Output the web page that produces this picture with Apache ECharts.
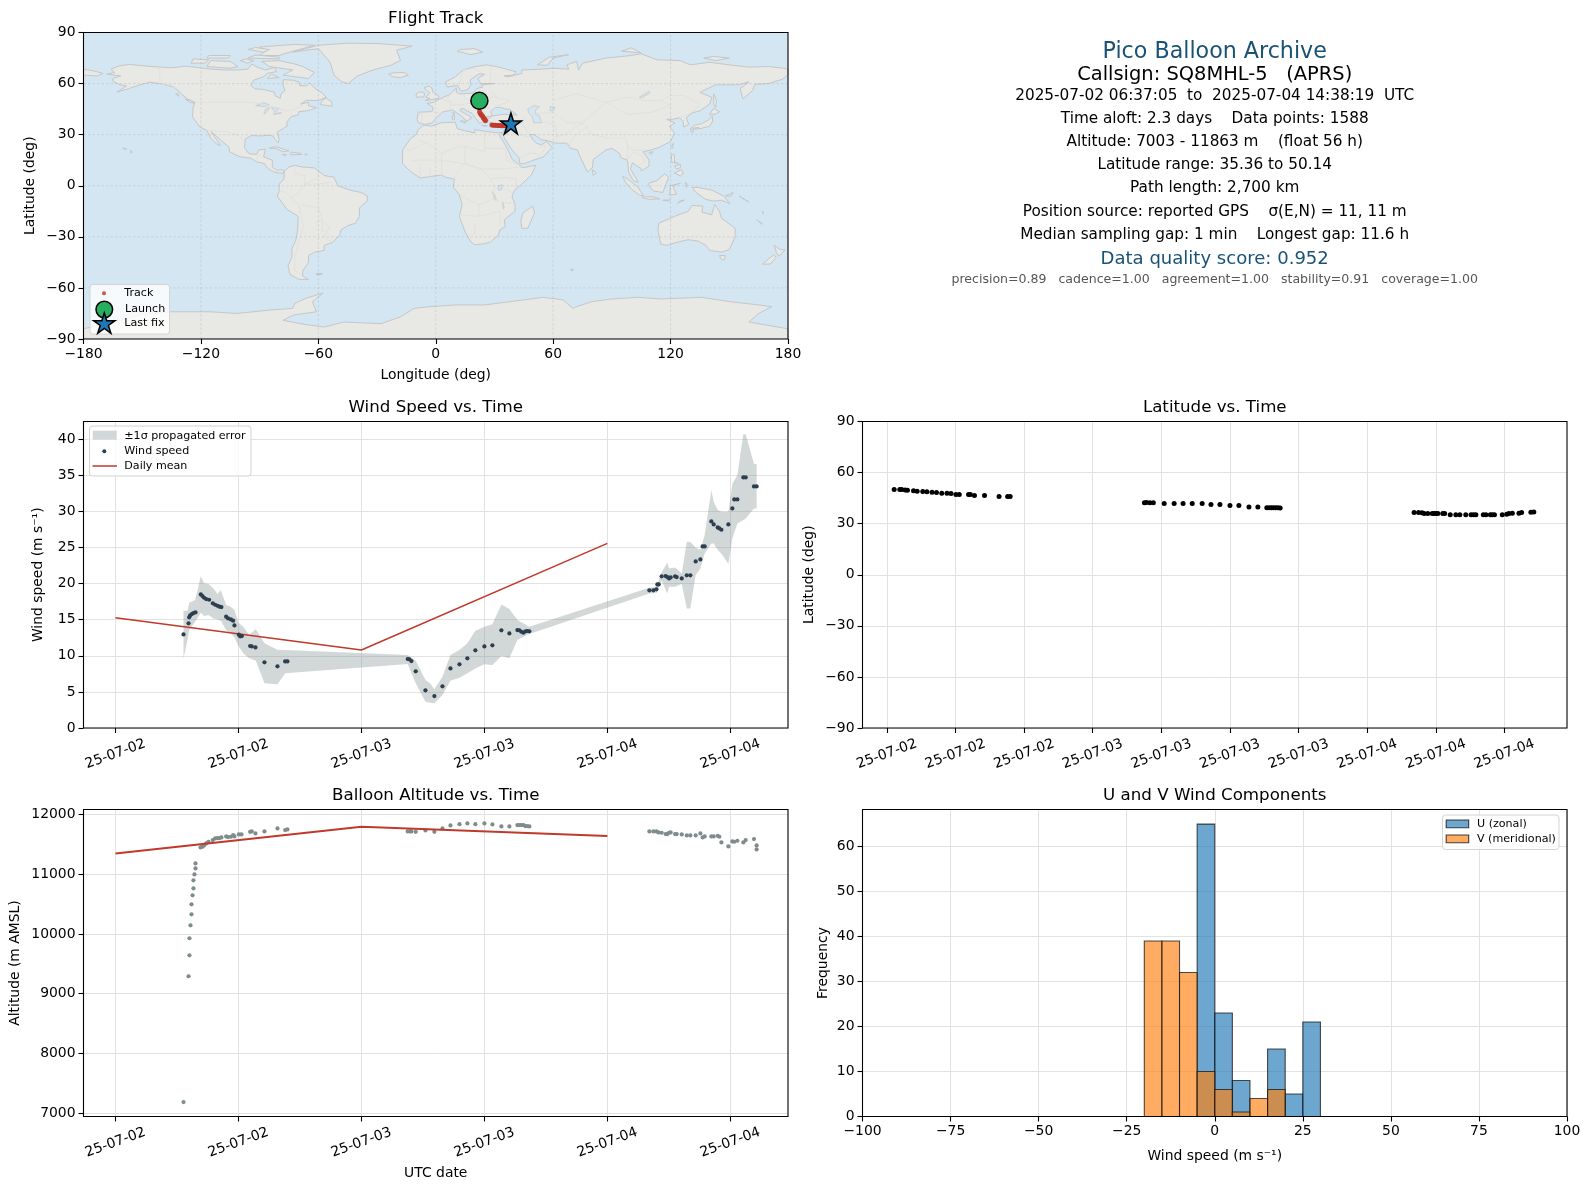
<!DOCTYPE html>
<html><head><meta charset="utf-8">
<style>html,body{margin:0;padding:0;background:#fff}#c{width:1590px;height:1190px}</style>
<script src="https://cdn.jsdelivr.net/npm/echarts@6/dist/echarts.min.js"></script>
</head><body><div id="c"></div>
<script>
// ---------- DATA ----------
const windHours=[6.64,7.13,7.19,7.29,7.45,7.61,7.81,8.33,8.49,8.65,8.85,9.14,9.50,9.73,9.95,10.15,10.34,10.80,10.99,11.26,11.48,11.61,12.04,12.17,12.33,13.14,13.30,13.66,14.54,15.81,16.56,16.78,28.52,28.69,28.88,29.30,30.25,31.12,31.91,32.69,33.57,34.34,35.12,36.0,36.78,37.66,38.44,39.22,39.42,39.61,39.81,40.0,40.2,40.39,52.10,52.49,52.79,52.88,53.01,53.30,53.69,53.86,54.02,54.18,54.61,54.77,55.26,55.75,56.10,56.62,57.08,57.30,57.50,58.15,58.38,58.77,58.93,59.13,59.81,60.20,60.39,60.69,61.27,61.50,62.31,62.57];
const windSpeed=[12.97,14.50,15.33,15.60,15.79,15.93,16.02,18.51,18.28,18.05,17.87,17.77,17.27,17.08,16.94,16.81,16.76,15.42,15.19,15.05,14.87,14.22,12.93,12.70,12.74,11.36,11.31,11.17,9.10,8.54,9.23,9.23,9.56,9.51,9.28,7.85,5.22,4.43,5.77,8.26,8.82,9.65,10.76,11.31,11.45,13.53,13.11,13.57,13.53,13.34,13.20,13.39,13.44,13.39,19.07,19.07,19.21,19.90,19.90,21.01,21.05,20.91,20.73,20.87,21.01,20.91,20.73,21.15,21.15,23.08,23.36,25.16,25.16,28.62,28.21,27.79,27.65,27.47,28.21,30.42,31.67,31.67,34.72,34.72,33.47,33.47];
const bandHours=[6.64,7.03,7.19,7.78,8.33,8.65,9.08,9.56,9.95,10.28,10.80,11.26,11.61,12.0,12.49,13.04,13.70,14.54,15.81,16.56,28.52,29.30,30.25,30.70,31.12,31.91,32.69,33.57,34.34,35.12,36.0,36.78,37.66,38.44,39.22,40.39,52.10,52.82,53.30,53.86,54.02,54.61,55.26,55.75,56.10,56.62,57.08,57.50,58.15,58.38,58.77,59.13,59.81,60.20,60.69,61.27,61.50,62.31,62.57];
const bandHigh=[16.25,16.25,17.36,17.73,21.05,20.04,19.94,19.34,18.56,19.11,17.04,16.81,16.34,14.59,14.04,12.88,13.67,11.73,10.85,10.80,10.11,9.33,6.65,6.19,5.36,7.11,10.11,10.80,11.73,13.48,14.04,14.36,17.13,16.48,14.96,14.04,19.44,19.58,21.61,22.90,22.11,22.25,21.42,25.76,25.76,25.02,24.65,26.73,32.96,31.35,30.19,29.96,29.96,33.80,35.04,40.72,40.72,36.57,36.57];
const bandLow=[9.65,12.19,13.57,14.73,15.97,15.51,15.65,15.19,15.05,14.87,13.57,13.11,12.56,11.36,10.34,9.65,9.33,6.19,6.05,7.57,8.86,6.19,3.65,3.51,3.42,4.57,6.56,6.97,7.57,8.26,8.82,8.73,9.97,9.65,12.19,13.02,18.65,18.74,20.41,18.65,19.58,19.58,19.94,16.57,16.57,21.19,22.11,24.19,25.58,25.58,24.65,24.19,22.71,26.27,28.35,28.81,29.04,30.42,30.42];
const meanHours=[0,24,48];
const meanWind=[15.28,10.80,25.58];
const meanAlt=[11348,11794,11638];
const altHours=[6.64,7.13,7.22,7.22,7.32,7.42,7.42,7.52,7.61,7.61,7.71,7.81,7.81,8.30,8.49,8.65,8.85,9.08,9.50,9.73,9.95,10.15,10.34,10.80,10.99,11.26,11.48,11.61,12.04,12.30,13.14,13.30,13.66,14.54,15.81,16.56,16.78,28.52,28.75,28.88,29.30,30.25,31.12,31.91,32.69,33.57,34.34,35.12,36.0,36.78,37.66,38.44,39.22,39.42,39.61,39.81,40.0,40.2,40.39,52.10,52.49,52.79,52.98,53.30,53.69,53.86,54.02,54.18,54.61,54.77,55.26,55.75,56.10,56.62,57.08,57.30,57.50,58.15,58.38,58.77,58.93,59.13,59.81,60.20,60.39,60.69,61.27,61.50,62.31,62.57,62.57];
const altMeters=[7187,9292,9643,9928,10145,10329,10496,10646,10763,10897,10997,11097,11181,11448,11460,11482,11515,11543,11571,11599,11604,11604,11616,11632,11621,11627,11655,11632,11666,11666,11710,11716,11682,11716,11766,11738,11749,11716,11716,11716,11710,11733,11710,11766,11816,11838,11850,11838,11850,11833,11799,11799,11822,11822,11822,11822,11805,11805,11799,11716,11716,11716,11699,11694,11671,11671,11694,11699,11671,11671,11666,11649,11649,11649,11682,11616,11632,11632,11632,11643,11627,11532,11465,11549,11543,11560,11532,11571,11588,11482,11415];
const latHours=[6.64,7.13,7.3,7.6,7.8,8.33,8.65,9.14,9.5,9.95,10.34,10.8,11.26,11.61,12.04,12.33,13.14,13.3,13.66,14.54,15.81,16.56,16.78,28.52,28.7,29.0,29.3,30.25,31.12,31.9,32.7,33.57,34.34,35.12,36.0,36.78,37.66,38.44,39.22,39.42,39.61,39.81,40.0,40.2,40.39,52.10,52.49,52.79,52.98,53.3,53.69,53.86,54.02,54.18,54.61,54.77,55.26,55.75,56.10,56.62,57.08,57.3,57.5,58.15,58.38,58.77,58.93,59.13,59.81,60.2,60.39,60.69,61.27,61.5,62.31,62.57];
const latDeg=[50.0,50.05,50.05,49.7,49.6,49.3,49.1,48.9,48.7,48.4,48.3,47.9,47.8,47.7,47.2,47.1,47.1,47.1,46.5,46.5,45.9,45.9,46.0,42.35,42.4,42.35,42.35,41.8,41.8,41.8,41.8,41.8,41.2,41.2,40.6,40.6,39.8,39.8,39.4,39.4,39.4,39.4,39.4,39.4,39.2,36.5,36.5,36.4,36.0,35.9,35.9,35.9,35.9,35.9,35.9,35.9,35.3,35.3,35.3,35.3,35.3,35.3,35.3,35.3,35.3,35.3,35.3,35.3,35.3,35.5,35.9,36.1,36.1,36.5,36.7,36.9];
const trackLon=[22.3,22.2,22.1,22.0,22.0,22.4,22.8,23.2,23.6,24.0,24.4,24.8,25.2,25.4,28.7,29.5,30.3,31.2,32.0,32.8,33.6,34.4,35.0,35.5,36.0];
const trackLat=[50.1,49.3,48.4,47.3,46.0,43.4,42.4,41.8,41.2,40.6,39.8,39.4,38.7,38.2,35.7,35.6,35.5,35.4,35.4,35.4,35.3,35.3,35.4,35.5,35.6];
const launchPoint=[22.3,49.9];
const lastFix=[38.4,36.6];
const binEdges=[-20,-15,-10,-5,0,5,10,15,20,25,30];
const uCounts=[0,0,0,65,23,8,0,15,5,21];
const vCounts=[39,39,32,10,6,1,4,6,0,0];
const lonTicks=[-180,-120,-60,0,60,120,180];
const latTicks=[-90,-60,-30,0,30,60,90];
const timeTicks12=[0,12,24,36,48,60];
const timeLabels12=['25-07-02','25-07-02','25-07-03','25-07-03','25-07-04','25-07-04'];
const timeTicks6=[6,12,18,24,30,36,42,48,54,60];
const timeLabels6=['25-07-02','25-07-02','25-07-02','25-07-03','25-07-03','25-07-03','25-07-03','25-07-04','25-07-04','25-07-04'];
const windTicks=[0,5,10,15,20,25,30,35,40];
const altTicks=[7000,8000,9000,10000,11000,12000];
const freqTicks=[0,10,20,30,40,50,60];
const infoLines=[
 ['Pico Balloon Archive',52.5,22.2,'#1a5276'],
 ['Callsign: SQ8MHL-5   (APRS)',74.5,19.44,'#000'],
 ['2025-07-02 06:37:05  to  2025-07-04 14:38:19  UTC',96,15.28,'#000'],
 ['Time aloft: 2.3 days    Data points: 1588',119.5,15.28,'#000'],
 ['Altitude: 7003 - 11863 m    (float 56 h)',142.5,15.28,'#000'],
 ['Latitude range: 35.36 to 50.14',165.5,15.28,'#000'],
 ['Path length: 2,700 km',188.5,15.28,'#000'],
 ['Position source: reported GPS    σ(E,N) = 11, 11 m',212,15.28,'#000'],
 ['Median sampling gap: 1 min    Longest gap: 11.6 h',235.5,15.28,'#000'],
 ['Data quality score: 0.952',259.5,18.06,'#1a5276'],
 ['precision=0.89   cadence=1.00   agreement=1.00   stability=0.91   coverage=1.00',279.5,12.55,'#555']
];
const landPolygons=[
 // North America
 [[-168,65.5],[-164,66.5],[-166,68.5],[-162,70.3],[-156.5,71.3],[-150,70.5],[-141,69.7],[-135,69.3],[-128,70.2],[-124,69.8],[-115,68.5],[-108,68],[-101,68],[-96,68.5],[-94,71.5],[-91,69.5],[-87,68],[-82,69.5],[-81.5,67],[-86,66],[-88,64],[-93,62],[-94.5,59],[-92.5,57],[-88,56.5],[-82.5,55],[-82,52.8],[-79.5,51.3],[-79,54],[-77,56],[-78,58.7],[-78,62.3],[-73,62],[-70,61],[-69.5,58.8],[-66,58.7],[-64.5,60.3],[-61.5,57],[-58,54.5],[-56,52],[-60,50],[-66,50.2],[-69,48],[-65,49],[-65,47],[-61,46],[-64,44.5],[-66,44],[-70,43.5],[-70,41.7],[-74,40.5],[-76,37.5],[-76,35],[-81,31.5],[-80,27],[-80.5,25.2],[-82,27],[-83,29],[-85,29.7],[-90,29.2],[-94,29.5],[-97.3,27.5],[-97.7,22.5],[-95.5,18.8],[-91.5,18.5],[-90.5,21],[-87,21.5],[-88,17],[-83.5,15],[-83.5,11],[-81,9],[-79,9.5],[-77.3,8.7],[-78,7.3],[-80.5,7.5],[-83,8.3],[-85.7,10],[-87.5,13],[-91.5,14],[-94.5,16.2],[-100,17],[-105.5,20],[-105.5,22.5],[-109,26],[-112.5,29.5],[-114.7,31.7],[-112,27],[-110,23.5],[-112,24.5],[-115,28],[-117,32.5],[-120.5,34.5],[-122.5,37.5],[-124.3,40.5],[-124,46],[-123,49],[-127,51],[-130.5,54.5],[-134,58],[-140,59.8],[-146,60.8],[-152,59],[-157,57],[-163,55],[-158,58.5],[-162,59.5],[-165,61.5],[-165,63],[-161,64.5]],
 [[-80,73.5],[-72,71.5],[-68,70],[-62,66.5],[-65,63],[-72,64],[-78,65],[-73,68],[-85,70],[-89,73]],
 [[-117,70],[-105,69],[-101,70],[-105,73],[-115,73.5]],
 [[-125,72],[-118,72],[-116,74],[-124,74.5]],
 [[-90,76.5],[-80,76.5],[-76,78],[-62,82.5],[-72,83],[-90,81.5],[-87,79]],
 [[-96,75],[-80,74.5],[-80,75.5],[-92,76.8]],
 [[-117,75],[-106,75],[-105,76.5],[-116,76.5]],
 [[-96,80],[-88,78.5],[-85,80],[-92,81.2]],
 [[-100,73.5],[-96,72],[-93,73.5],[-97,74.5]],
 [[-84,65.5],[-80,63.5],[-86,63]],
 [[-59,47.7],[-53,46.7],[-53,49],[-56,51.5],[-58,50]],
 [[-133,54],[-131.5,54],[-131.5,52.5]],
 [[-128,50.8],[-125,50],[-123.5,48.5],[-125.5,49]],
 // Greenland, Iceland
 [[-73,78.5],[-60,80.5],[-54,72.5],[-52,65],[-48,61],[-44.7,60],[-40,64.5],[-32,68],[-23,70.7],[-18,73.7],[-20,79.6],[-12,82],[-30,83.5],[-45.5,83.7],[-60,82.5]],
 [[-24,65.5],[-22,64],[-18,63.5],[-14,65],[-16,66.5],[-22,66.3]],
 // Caribbean, Hawaii
 [[-85,22],[-82,23],[-75,20.5],[-78,20],[-82,22]],
 [[-74,19.8],[-69,19],[-68.5,18.4],[-74,18.2]],
 [[-78.3,18.4],[-76.3,18.2],[-77,17.8]],
 [[-67,18.5],[-65.7,18.4],[-66.5,18]],
 [[-156,20.8],[-155,19.7],[-155.7,19]],
 [[-160,22.2],[-158,21.6],[-159,21.4]],
 // South America
 [[-77.3,8.7],[-75,11],[-72,12],[-68,11],[-62,10.5],[-57,6],[-52,5],[-50,0],[-44,-2.5],[-38,-4],[-35,-6],[-35,-9],[-39,-13],[-39,-18],[-41,-22],[-45,-23.5],[-48.5,-26],[-49,-29],[-53,-33.5],[-57,-35],[-57,-38],[-62,-39],[-65,-41],[-65,-45],[-68,-50],[-68,-53],[-65,-55],[-70,-55],[-74.5,-52],[-75.5,-47],[-73.5,-42],[-73.5,-37],[-71.5,-32],[-70.5,-25],[-70.3,-18],[-76,-14],[-81,-6],[-80,-3],[-80,1],[-77.5,4],[-77.5,7]],
 [[-61,-51.5],[-58,-51.5],[-58,-52.2],[-61,-52.2]],
 // Africa, Madagascar
 [[-6,35.7],[-2,35],[3,37],[10,37.3],[11,33.5],[15,32.3],[20,31],[20,33],[25,32],[32,31],[34.3,31.3],[32.5,29.5],[35.5,24],[37.3,20],[39,15.5],[43,12],[44,10.5],[51,12],[49,6.5],[44,1],[40,-3],[39,-6.5],[40.5,-11],[40.5,-15],[35,-20],[35.5,-24],[32.7,-26],[32,-29],[28,-33],[25,-34],[20,-34.8],[18,-33],[15,-27],[12,-18],[13.5,-11],[12,-5],[9,-1],[9.5,4],[5,5],[3,6.3],[-4,5.2],[-8,4.5],[-13,8.5],[-17,13],[-17,21],[-13,27.5],[-10,30],[-9,33]],
 [[49.5,-12],[50.5,-16],[47,-25],[44,-25],[43.5,-21],[44.5,-16]],
 // Eurasia
 [[-9,37],[-9.5,39],[-9,43.2],[-2,43.5],[-1.2,46],[-4.5,48.3],[-1,49],[2,51],[4,52],[7,53.5],[8.5,55],[10.5,57.5],[10.5,55],[12,54],[14,54],[19,54.5],[21,57],[24,58],[23.5,59.3],[30,60],[23,60],[21.5,63],[25,65.5],[22,65.7],[17.5,62],[18,59.5],[16.5,56.5],[13,55.5],[11,59],[6,58],[5,61],[10,64],[14,68],[20,70],[26,71],[31,70],[41,67],[40,65],[35,64.5],[37,64],[44,66],[44,68],[54,68.5],[60,69],[68,68.5],[67,71],[72,73],[73,68],[75,72],[81,73.5],[87,75],[100,76.5],[105,77.5],[113,74],[125,73.5],[130,71],[140,72.5],[150,71],[160,69.7],[170,70],[178,69],[180,68.5],[180,65],[177,62.5],[170,60],[163,59.5],[162,56],[157,51],[155.5,57],[160,61],[155,59.3],[143,59.3],[135,54.8],[141,52],[140,48],[135,44],[131,42.8],[128,40],[129.3,36],[126.5,34.5],[126.5,37.7],[124.5,40],[121,39],[118,39],[122.3,37],[119.5,35],[122,31],[120,26],[114,22.5],[110,21],[106,20],[109,15],[109,11.5],[105,8.7],[105,10],[100.5,13.5],[99.5,10],[103.5,2],[101,3],[98.5,8],[98,15],[94.5,16.5],[94,19],[90,22],[87,21],[80.5,15.5],[80,10.5],[77.5,8],[73,19],[72.5,21],[69,22],[67,25],[61.5,25],[57,26.5],[54,27],[50.5,30],[48,30],[50,26.5],[51.5,25],[54,24],[56.5,26],[59.5,22.5],[55,17],[45,13],[43,13],[42.5,16.5],[39,21],[35,28],[34.5,31.3],[36,36],[32,36.2],[28,36.7],[26.5,39],[29,41],[35,42],[41.5,41.5],[38,44.7],[35,45.3],[33,46],[30.5,46],[28,43.5],[29,41.2],[26,40.5],[23.5,40],[24,38],[22.5,36.5],[19.5,41],[18.5,42.5],[14,45.3],[12.5,45],[12.5,44],[18.5,40],[16,38],[12.5,41.5],[8.5,44.5],[3.5,43.3],[0,39.5],[-2,36.8],[-5.5,36]],
 [[-180,68.5],[-175,67.5],[-170,66],[-173,64.5],[-180,65]],
 // Europe / Arctic islands
 [[-5.5,50],[1.5,51.2],[1.5,52.8],[-1.5,55],[-2,57.5],[-3.5,58.6],[-6,57.5],[-3,54.5],[-5,52],[-3,51.3]],
 [[-10,52],[-6,52.2],[-5.7,54.5],[-8,55.2],[-10,54]],
 [[11,79],[18,77],[24,78.5],[20,80.5],[12,80]],
 [[52,71],[57,70.7],[60,75],[68,77],[58,75.5]],
 [[95,79],[105,78],[100,81]],
 [[137,75],[143,73.5],[150,75],[142,76]],
 [[12.5,38],[15.5,38],[15,36.8]],
 [[8.3,41],[9.7,41],[9.5,39],[8.5,39]],
 [[8.6,42.8],[9.5,43],[9.3,41.5]],
 [[23.5,35.5],[26.3,35.2],[24.5,35]],
 [[32.3,35],[34.5,35.6],[33.8,34.7]],
 // East Asia
 [[142,54],[143.5,50],[143,46],[142,48]],
 [[130.8,34],[135,33.5],[140,35],[141.5,38],[141.3,41],[139.8,39],[136,36.5],[132,35.5]],
 [[140,42],[143,42],[145,43.5],[142,45.5]],
 [[130,33.5],[132,33],[131,31]],
 [[132.5,34],[134.5,34.2],[133,33]],
 [[120.2,23],[121.5,25],[121,22]],
 [[109,19.5],[111,20],[110,18.3]],
 [[120.5,18.5],[122,18],[122,14],[124,13],[120.5,14]],
 [[122,7.5],[125.5,9.5],[126.5,7],[125,5.8]],
 [[122,11.5],[125,12.5],[125,10.5],[123,10]],
 // Indonesia, Oceania
 [[109,1.5],[113,3],[117,7],[119,5],[117.7,1],[116,-4],[111,-3],[109,0]],
 [[95.5,5.5],[98,4],[103.5,-1],[106,-5.8],[104,-5.5],[100,-2],[97,2]],
 [[105.5,-6.5],[111,-6.5],[114.5,-7.7],[109,-8],[105.5,-7]],
 [[119.5,-5.5],[120,0],[125,1.5],[121,0],[123,-5]],
 [[127.5,2],[128.5,1],[128,-1]],
 [[131,-1],[134,-1],[141,-2.5],[147,-6],[150.5,-10.5],[146,-8.5],[142,-9],[138,-8],[133,-4]],
 [[123.5,-10.3],[127,-8.4],[125,-8.8]],
 [[116,-8.5],[120,-8.3],[119,-9]],
 [[148,-6],[152,-4],[151,-6]],
 [[155,-6],[157,-7.5],[160,-9.5],[158,-8.2]],
 [[164,-20],[167,-22.5],[166,-22]],
 [[167,-15],[167.5,-16.5],[167,-16]],
 [[80,9.5],[82,7.5],[80.5,6]],
 [[114,-22],[113.5,-26],[115,-34.3],[118,-35],[124,-33],[129,-31.7],[134,-32.5],[138,-35],[140,-38],[146,-39],[150,-37.5],[153,-30],[153,-25],[146,-19],[145,-15],[142.5,-11],[141,-17],[136,-15.5],[136.5,-12],[131,-11.5],[129,-15],[122,-18]],
 [[145,-41],[148,-41],[147.5,-43.5],[146,-43.5]],
 [[173,-35],[176,-37.5],[178.5,-37.7],[175.3,-41.5],[174,-39]],
 [[172.7,-40.6],[174,-42],[171,-46],[167,-46],[170,-43]],
 [[69,-49],[70.5,-49.3],[69.5,-50]],
 // Antarctica
 [[-180,-84],[-165,-80],[-150,-75.5],[-135.7,-74],[-115,-74],[-101.6,-75],[-85,-73],[-73,-72],[-72,-69],[-66,-66],[-57.5,-63],[-63,-68],[-61,-74],[-73,-76],[-78,-79],[-67.7,-81.3],[-57,-83],[-47,-80],[-28,-81],[-18,-77],[-11,-72],[-3,-71],[10,-70],[25,-70],[35,-68.5],[45,-67],[55,-65.5],[65,-67],[70,-72],[72,-71],[80,-68],[90,-66.5],[103,-65.5],[115,-66.5],[135.7,-65.5],[150,-68],[165,-70],[171.7,-71],[165,-75],[160,-80],[180,-84],[180,-90],[-180,-90]]
];
const lakePolygons=[
 [[47,45],[50,47],[53,46.5],[51,44.5],[51,42],[53,41],[54,37],[50,37],[49.5,40],[47.5,43]],
 [[58.5,46.5],[61,46],[60,44],[58.5,44]],
 [[-92,47],[-88,48.8],[-85,47.5],[-87,46.5]],
 [[-87.8,42],[-86,44],[-85,46],[-87,45]],
 [[-84,46],[-80,45.5],[-82,43]],
 [[-83,42],[-79,43],[-79,42.5]],
 [[31.8,0],[34,0.5],[33.5,-2.5],[32,-2.5]],
 [[29,-3.5],[30,-5],[31,-8.5],[30,-8]],
 [[34.2,-9.5],[35,-13],[34.5,-13.5]],
 [[104,52],[109,55.5],[109.5,54.5],[105,51.5]]
];
const borderLines=[
 [[-141,69.7],[-141,60],[-135,59],[-130,55]],
 [[-123,49],[-95,49],[-88,48],[-83,46],[-76,44],[-72,45],[-68,47]],
 [[-117,32.5],[-106,31.7],[-101,29.5],[-97.3,26]],
 [[-92,14.5],[-91,17.5],[-89,18]],
 [[-72,12],[-72,7],[-67,6],[-67,1],[-70,-4],[-74,-7],[-70,-11],[-69,-17],[-67.5,-23],[-70,-33],[-72,-42],[-72,-50],[-69,-52]],
 [[-67,1],[-60,5],[-60,8]],[[-74,-7],[-78,-3],[-80,-3.5]],[[-69,-11],[-60,-13],[-58,-20],[-54,-25],[-57.5,-30],[-53,-33]],[[-62,-22],[-58,-20],[-58,-27],[-54,-25]],[[-54,2],[-60,1],[-67,1]],
 [[-9,27],[-4,25],[3,19],[12,23],[15,23],[25,20],[25,32]],[[25,22],[37,22]],[[-17,21],[-13,21],[-5,25]],[[-12,15],[3,15],[14,13],[23,10],[35,10],[43,11]],[[3,19],[3,12],[3,6]],[[14,13],[9,4]],[[15,23],[15,13],[23,10]],[[23,10],[28,4],[35,5],[41,4],[41,-1.5]],[[28,4],[30,-1],[29,-8],[22,-11],[13,-6]],[[34,-1],[40,-4.5]],[[30,-8],[34,-10],[40,-10.5]],[[22,-11],[22,-18],[12,-17]],[[22,-18],[33,-15],[33,-24]],[[20,-22],[20,-28],[17,-29]],[[-8,5],[-8,12]],[[-3,5],[-3,11]],[[36,22],[36,15],[43,12]],
 [[60,50],[72,54],[87,49],[98,52],[107,50],[115,50],[120,53],[127,53],[135,48],[131,43]],[[47,42],[60,43],[67,37],[75,37],[80,30],[88,28],[97,28],[98,24],[100,21],[107,21]],[[87,49],[80,42],[75,37]],[[87,49],[98,42],[110,43],[120,47],[115,50]],[[62,29],[66,30],[71,34],[75,37]],[[68,24],[70,28],[74,32],[78,35]],[[62,25],[61,36],[53,38]],[[45,40],[44,37],[46,33],[48,30]],[[36,33],[42,37],[44,37]],[[35,29],[39,32],[46,29],[48,29]],[[52,22],[56,24]],[[52,17],[55,20],[56,24]],[[43,16.5],[48,19],[52,19]],[[98,24],[98,15],[101,20],[105,18],[107,14],[103,12]],[[124.3,40],[130,42.5]],[[128,38.3],[126.5,38]],
 [[-2,43.5],[3,42.5]],[[-7,37],[-7,42],[-9,42]],[[2.5,51],[8,49],[7.5,47.5],[13,47.5],[17,48.5],[23,48],[24,51],[24,54]],[[7,53.5],[6,51],[8,49]],[[7.5,47.5],[7,44]],[[14,54],[15,51],[19,49.5],[23,48]],[[22,48],[28,45.5],[22,44],[22,41],[26,41]],[[30,46],[38,50],[30,52],[24,51]],[[28,56],[31,52]],[[28,60],[28,70]],[[20,69],[24,66]],[[12,59],[14,68],[20,69]]
];
const graticuleLons=[-120,-60,0,60,120];
const graticuleLats=[-60,-30,0,30,60];

// ---------- STYLE / HELPERS ----------
const FONT='DejaVu Sans';
const col={left:83.5,right:862.5,w:704.5};
const rows={map:{t:32.5,h:306.5},mid:{t:421.5,h:306.5},bot:{t:809.5,h:307}};
const pairs=(a,b)=>a.map((v,i)=>[v,b[i]]);
const minus=v=>String(v).replace('-','\u2212');
const dateFmt=(ticks,labels)=>v=>{const i=ticks.indexOf(v);return i<0?'':labels[i];};
const gridLine={show:true,lineStyle:{color:'#e2e2e2',width:1,opacity:1}};
const labelBase={color:'#000',fontFamily:FONT,fontSize:13.9};
function xTime(gridIndex,min,max,ticks,labels,name){
 return {type:'value',gridIndex,min,max,
  name:name||'',nameLocation:'middle',nameGap:50,nameTextStyle:{color:'#000',fontFamily:FONT,fontSize:13.9},
  axisLine:{show:false,onZero:false},axisTick:{show:true,length:5,inside:false,customValues:ticks,lineStyle:{color:'#000',width:1.1}},
  splitLine:gridLine,
  axisLabel:Object.assign({},labelBase,{customValues:ticks,rotate:20,margin:26,align:'center',verticalAlign:'middle',formatter:dateFmt(ticks,labels),hideOverlap:false})};
}
function yVal(gridIndex,min,max,ticks,name,gap,fmt){
 return {type:'value',gridIndex,min,max,
  name,nameLocation:'middle',nameGap:gap,nameTextStyle:{color:'#000',fontFamily:FONT,fontSize:13.9},
  axisLine:{show:false,onZero:false},axisTick:{show:true,length:5,customValues:ticks,lineStyle:{color:'#000',width:1.1}},
  splitLine:gridLine,
  axisLabel:Object.assign({},labelBase,{customValues:ticks,margin:8,padding:[3,0,0,0],formatter:fmt||minus})};
}
function polyItem(getPts,style){
 return function(params,api){
  const pts=getPts(params.dataIndex).map(p=>api.coord(p));
  return {type:'polygon',shape:{points:pts},style:Object.assign({},style),silent:true};
 };
}
function lineItem(getPts,style){
 return function(params,api){
  const pts=getPts(params.dataIndex).map(p=>api.coord(p));
  return {type:'polyline',shape:{points:pts},style:Object.assign({fill:null},style),silent:true};
 };
}
function histItem(counts,fill){
 return function(params,api){
  const i=params.dataIndex;
  if(!counts[i]) return null;
  const a=api.coord([binEdges[i],counts[i]]),b=api.coord([binEdges[i+1],0]);
  return {type:'rect',shape:{x:a[0],y:a[1],width:b[0]-a[0],height:b[1]-a[1]},style:{fill,stroke:'rgba(20,20,20,0.75)',lineWidth:1.1},silent:true};
 };
}
const starPath='path://M10 0L12.25 6.91L19.51 6.91L13.63 11.18L15.88 18.09L10 13.82L4.12 18.09L6.37 11.18L0.49 6.91L7.75 6.91Z';
const graticule=[...graticuleLons.map(l=>[[l,-90],[l,90]]),...graticuleLats.map(l=>[[-180,l],[180,l]])];

// ---------- OPTION ----------
const frame=(x,y,w,h)=>({type:'rect',z:60,silent:true,shape:{x,y,width:w,height:h},style:{fill:null,stroke:'#000',lineWidth:1.1}});
const legendBox=(x,y,w,h)=>({type:'rect',z:70,silent:true,shape:{x,y,width:w,height:h,r:3},style:{fill:'rgba(255,255,255,0.8)',stroke:'#d4d4d4',lineWidth:1}});
const legText=(t,x,y)=>({type:'text',z:71,silent:true,style:{text:t,x,y,fill:'#000',font:'11.1px "DejaVu Sans"',textVerticalAlign:'middle',verticalAlign:'middle'}});
const graphics=[
 frame(col.left,rows.map.t,col.w,rows.map.h),frame(col.left,rows.mid.t,col.w,rows.mid.h),frame(col.right,rows.mid.t,col.w,rows.mid.h),frame(col.left,rows.bot.t,col.w,rows.bot.h),frame(col.right,rows.bot.t,col.w,rows.bot.h),
 // map legend
 legendBox(90,284.5,79.5,49.5),
 {type:'circle',z:71,silent:true,shape:{cx:104,cy:293.3,r:2},style:{fill:'#c0392b',opacity:.85}},
 {type:'circle',z:71,silent:true,shape:{cx:104.3,cy:309.5,r:8.3},style:{fill:'#27ae60',stroke:'#000',lineWidth:1.5}},
 {type:'polygon',z:72,silent:true,shape:{points:[[104.3,313],[106.8,320.7],[115,320.7],[108.4,325.5],[110.9,333.3],[104.3,328.5],[97.7,333.3],[100.2,325.5],[93.6,320.7],[101.8,320.7]]},style:{fill:'#1f77b4',stroke:'#000',lineWidth:1.5,lineJoin:'miter'}},
 legText('Track',124.3,293),legText('Launch',125,309),legText('Last fix',124.3,323.5),
 // wind legend
 legendBox(89.5,426,161.5,50),
 {type:'rect',z:71,silent:true,shape:{x:92.7,y:430.7,width:24,height:9},style:{fill:'rgba(127,140,141,0.35)'}},
 {type:'circle',z:71,silent:true,shape:{cx:104.3,cy:451.3,r:2},style:{fill:'#2c3e50'}},
 {type:'line',z:71,silent:true,shape:{x1:92.5,y1:466,x2:117,y2:466},style:{stroke:'#c0392b',lineWidth:1.5}},
 legText('±1σ propagated error',124.3,436),legText('Wind speed',124.3,451),legText('Daily mean',124.3,466.5),
 // histogram legend
 legendBox(1442.5,815,116.5,34.5),
 {type:'rect',z:71,silent:true,shape:{x:1446.2,y:820,width:22.5,height:7.7},style:{fill:'rgba(31,119,180,0.65)',stroke:'rgba(20,20,20,0.8)',lineWidth:1.1}},
 {type:'rect',z:71,silent:true,shape:{x:1446.2,y:835,width:22.5,height:7.7},style:{fill:'rgba(255,127,14,0.65)',stroke:'rgba(20,20,20,0.8)',lineWidth:1.1}},
 legText('U (zonal)',1477,824.5),legText('V (meridional)',1477,839.5),
 // info block
 ...infoLines.map(([t,y,s,c])=>({type:'text',z:10,silent:true,style:{text:t,x:1214.7,y,fill:c,font:s+'px "DejaVu Sans"',textAlign:'center',align:'center',verticalAlign:'middle',textVerticalAlign:'middle'}}))
];
const titleOf=(text,cx,top)=>({text,left:cx,top,textAlign:'center',padding:0,textStyle:{fontFamily:FONT,fontSize:16.67,fontWeight:'normal',color:'#000'}});
const cxL=col.left+col.w/2,cxR=col.right+col.w/2;

const option={
 animation:false,backgroundColor:'#fff',
 title:[titleOf('Flight Track',cxL,10),titleOf('Wind Speed vs. Time',cxL,399),titleOf('Latitude vs. Time',cxR,399),titleOf('Balloon Altitude vs. Time',cxL,787.5),titleOf('U and V Wind Components',cxR,787.5)],
 grid:[
  {left:col.left,top:rows.map.t,width:col.w,height:rows.map.h,show:true,backgroundColor:'#d4e6f1',borderWidth:0},
  {left:col.left,top:rows.mid.t,width:col.w,height:rows.mid.h},
  {left:col.right,top:rows.mid.t,width:col.w,height:rows.mid.h},
  {left:col.left,top:rows.bot.t,width:col.w,height:rows.bot.h},
  {left:col.right,top:rows.bot.t,width:col.w,height:rows.bot.h}
 ],
 xAxis:[
  {type:'value',gridIndex:0,min:-180,max:180,name:'Longitude (deg)',nameLocation:'middle',nameGap:29,nameTextStyle:{color:'#000',fontFamily:FONT,fontSize:13.9},
   axisLine:{show:false,onZero:false},axisTick:{show:true,length:5,customValues:lonTicks,lineStyle:{color:'#000',width:1.1}},splitLine:{show:false},
   axisLabel:Object.assign({},labelBase,{customValues:lonTicks,margin:8.5,formatter:minus})},
  xTime(1,-3.12,65.63,timeTicks12,timeLabels12),
  xTime(2,3.87,65.47,timeTicks6,timeLabels6),
  xTime(3,-3.12,65.63,timeTicks12,timeLabels12,'UTC date'),
  {type:'value',gridIndex:4,min:-100,max:100,name:'Wind speed (m s\u207B\u00B9)',nameLocation:'middle',nameGap:33,nameTextStyle:{color:'#000',fontFamily:FONT,fontSize:13.9},
   axisLine:{show:false,onZero:false},axisTick:{show:true,length:5,customValues:[-100,-75,-50,-25,0,25,50,75,100],lineStyle:{color:'#000',width:1.1}},splitLine:gridLine,
   axisLabel:Object.assign({},labelBase,{customValues:[-100,-75,-50,-25,0,25,50,75,100],margin:8,formatter:minus})}
 ],
 yAxis:[
  Object.assign(yVal(0,-90,90,latTicks,'Latitude (deg)',46),{splitLine:{show:false}}),
  yVal(1,0,42.47,windTicks,'Wind speed (m s\u207B\u00B9)',38),
  yVal(2,-90,90,latTicks,'Latitude (deg)',46),
  yVal(3,6945,12083,altTicks,'Altitude (m AMSL)',61,String),
  yVal(4,0,68.25,freqTicks,'Frequency',32)
 ],
 series:[
  {type:'custom',xAxisIndex:0,yAxisIndex:0,clip:true,z:2,data:landPolygons.map((p,i)=>[i]),renderItem:polyItem(i=>landPolygons[i],{fill:'#e8e8e4',stroke:'#c4c7c9',lineWidth:1,lineJoin:'round'})},
  {type:'custom',xAxisIndex:0,yAxisIndex:0,clip:true,z:3,data:lakePolygons.map((p,i)=>[i]),renderItem:polyItem(i=>lakePolygons[i],{fill:'#d4e6f1',stroke:'#c4c9cc',lineWidth:.8,lineJoin:'round'})},
  {type:'custom',xAxisIndex:0,yAxisIndex:0,clip:true,z:3,data:borderLines.map((p,i)=>[i]),renderItem:lineItem(i=>borderLines[i],{stroke:'#dedeDA',lineWidth:.8})},
  {type:'custom',xAxisIndex:0,yAxisIndex:0,clip:true,z:4,data:graticule.map((p,i)=>[i]),renderItem:lineItem(i=>graticule[i],{stroke:'rgba(130,140,150,0.3)',lineWidth:.7,lineDash:[2.5,2]})},
  {type:'scatter',xAxisIndex:0,yAxisIndex:0,z:6,symbolSize:5,silent:true,itemStyle:{color:'#c0392b',opacity:.9},data:pairs(trackLon,trackLat)},
  {type:'scatter',xAxisIndex:0,yAxisIndex:0,z:7,symbolSize:17,silent:true,itemStyle:{color:'#27ae60',borderColor:'#000',borderWidth:1.5,opacity:1},data:[launchPoint]},
  {type:'scatter',xAxisIndex:0,yAxisIndex:0,z:8,symbol:starPath,symbolSize:21,silent:true,itemStyle:{color:'#1f77b4',borderColor:'#000',borderWidth:1.5,opacity:1},data:[lastFix]},
  // wind
  {type:'custom',xAxisIndex:1,yAxisIndex:1,z:2,clip:true,data:[[0]],renderItem:polyItem(()=>[...pairs(bandHours,bandHigh),...pairs(bandHours,bandLow).reverse()],{fill:'rgba(127,140,141,0.35)'})},
  {type:'line',xAxisIndex:1,yAxisIndex:1,z:3,showSymbol:false,silent:true,lineStyle:{color:'#c0392b',width:1.5},data:pairs(meanHours,meanWind)},
  {type:'scatter',xAxisIndex:1,yAxisIndex:1,z:4,symbolSize:4.2,silent:true,itemStyle:{color:'#2c3e50',opacity:1},data:pairs(windHours,windSpeed)},
  // latitude
  {type:'scatter',xAxisIndex:2,yAxisIndex:2,z:4,symbolSize:5,silent:true,itemStyle:{color:'#000',opacity:1},data:pairs(latHours,latDeg)},
  // altitude
  {type:'scatter',xAxisIndex:3,yAxisIndex:3,z:4,symbolSize:4.2,silent:true,itemStyle:{color:'#7f8c8d',opacity:1},data:pairs(altHours,altMeters)},
  {type:'line',xAxisIndex:3,yAxisIndex:3,z:5,showSymbol:false,silent:true,lineStyle:{color:'#c0392b',width:2},data:pairs(meanHours,meanAlt)},
  // histogram
  {type:'custom',xAxisIndex:4,yAxisIndex:4,z:3,data:uCounts.map((c,i)=>[binEdges[i],c]),renderItem:histItem(uCounts,'rgba(31,119,180,0.65)')},
  {type:'custom',xAxisIndex:4,yAxisIndex:4,z:4,data:vCounts.map((c,i)=>[binEdges[i],c]),renderItem:histItem(vCounts,'rgba(255,127,14,0.65)')}
 ],
 graphic:{elements:graphics}
};
const chart=echarts.init(document.getElementById('c'),null,{renderer:'canvas',width:1590,height:1190});
chart.setOption(option);
</script></body></html>
